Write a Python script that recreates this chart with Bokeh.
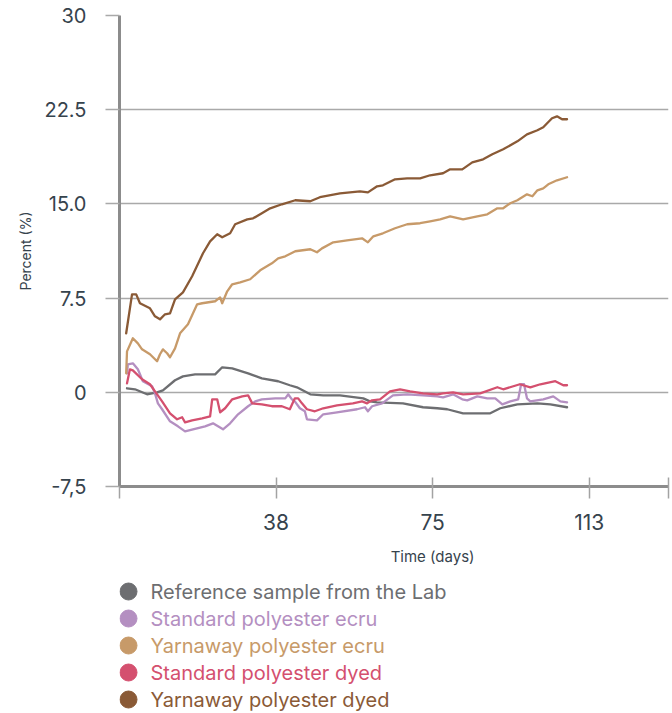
from bokeh.plotting import figure
from bokeh.models import FixedTicker, LinearAxis, Range1d, ColumnDataSource
from bokeh.layouts import column
from bokeh.core.properties import value
from bokeh.embed import file_html
from bokeh.resources import INLINE

# ---------------- data ----------------
ref_days = [1.8, 3.7, 6.6, 9.0, 10.4, 13.3, 15.2, 18.1, 22.9, 24.6, 27.0, 30.8, 34.1, 38.0,
            40.8, 42.5, 45.7, 48.8, 52.8, 58.4, 60.0, 61.7, 67.9, 72.7, 76.1, 78.5, 82.3,
            88.8, 91.2, 95.3, 100.1, 103.2, 107.2]
ref_vals = [0.32, 0.24, -0.16, 0.0, 0.16, 0.96, 1.27, 1.43, 1.43, 1.99, 1.91, 1.51, 1.11, 0.88,
            0.56, 0.40, -0.16, -0.24, -0.24, -0.48, -0.72, -0.80, -0.88, -1.19, -1.27, -1.35,
            -1.67, -1.67, -1.27, -0.96, -0.88, -0.96, -1.19]

std_ecru_days = [1.8, 2.0, 3.2, 4.4, 5.6, 7.8, 8.5, 9.2, 10.2, 12.1, 14.0, 15.7, 17.6, 20.5,
                 22.4, 23.6, 24.8, 26.5, 28.4, 30.8, 32.5, 34.1, 37.3, 39.7, 40.4, 41.3, 42.0,
                 43.2, 44.4, 44.9, 47.3, 48.8, 52.1, 56.9, 58.8, 59.5, 60.5, 62.9, 65.5, 68.9,
                 72.7, 76.1, 77.5, 79.9, 82.1, 83.3, 85.7, 88.1, 90.0, 91.7, 93.6, 95.5, 96.2,
                 96.9, 97.6, 98.4, 101.5, 103.9, 105.6, 107.2]
std_ecru_vals = [1.51, 2.23, 2.31, 1.83, 0.88, 0.48, -0.08, -0.88, -1.35, -2.31, -2.71, -3.11,
                 -2.95, -2.71, -2.47, -2.71, -2.95, -2.47, -1.75, -1.11, -0.72, -0.56, -0.48,
                 -0.48, -0.16, -0.56, -0.72, -1.27, -1.51, -2.15, -2.23, -1.75, -1.59, -1.35,
                 -1.19, -1.51, -1.11, -0.88, -0.24, -0.16, -0.24, -0.32, -0.40, -0.16, -0.56,
                 -0.64, -0.32, -0.48, -0.48, -0.96, -0.72, -0.56, 0.64, 0.64, -0.48, -0.72,
                 -0.56, -0.32, -0.72, -0.80]

yarn_ecru_days = [1.6, 1.8, 3.2, 4.4, 5.4, 7.3, 9.0, 9.7, 10.4, 11.4, 12.1, 13.3, 14.5, 16.4,
                  18.6, 19.8, 22.9, 24.1, 24.6, 25.8, 27.0, 28.9, 31.3, 33.7, 36.5, 38.0, 39.7,
                  42.1, 45.7, 47.3, 48.5, 51.2, 54.5, 58.1, 59.5, 60.8, 63.1, 66.0, 68.9, 72.0,
                  74.4, 76.8, 79.2, 82.3, 85.7, 88.1, 90.5, 91.9, 93.6, 95.3, 97.6, 98.9, 100.1,
                  101.5, 102.7, 104.8, 107.2]
yarn_ecru_vals = [1.51, 3.26, 4.30, 3.90, 3.42, 3.03, 2.47, 3.03, 3.42, 3.11, 2.79, 3.50, 4.70,
                  5.41, 7.01, 7.09, 7.25, 7.56, 7.09, 8.04, 8.60, 8.76, 9.00, 9.71, 10.27, 10.67,
                  10.83, 11.23, 11.39, 11.15, 11.46, 11.94, 12.10, 12.26, 11.94, 12.42, 12.66,
                  13.06, 13.38, 13.46, 13.61, 13.77, 14.01, 13.77, 14.01, 14.17, 14.65, 14.65,
                  15.05, 15.29, 15.76, 15.61, 16.08, 16.24, 16.56, 16.88, 17.12]

std_dyed_days = [1.8, 2.5, 3.2, 5.4, 7.3, 8.5, 10.2, 12.1, 13.8, 15.0, 15.7, 17.4, 19.8, 21.7,
                 22.2, 23.4, 24.1, 25.3, 27.0, 29.4, 30.8, 31.8, 34.1, 36.5, 38.9, 40.8, 42.0,
                 42.8, 43.7, 44.9, 46.8, 48.8, 52.1, 55.9, 58.1, 59.3, 60.5, 62.4, 64.8, 67.2,
                 69.6, 72.7, 76.1, 77.5, 79.9, 82.3, 86.4, 90.5, 91.9, 95.9, 98.4, 100.8, 104.4,
                 106.3, 107.2]
std_dyed_vals = [0.72, 1.83, 1.75, 1.04, 0.64, 0.08, -0.72, -1.67, -2.15, -1.99, -2.39, -2.23,
                 -2.07, -1.91, -0.56, -0.56, -1.59, -1.27, -0.56, -0.32, -0.24, -0.88, -0.96,
                 -1.11, -1.11, -1.35, -0.48, -0.48, -0.88, -1.35, -1.51, -1.27, -1.04, -0.88,
                 -0.72, -0.88, -0.64, -0.56, 0.08, 0.24, 0.08, -0.08, -0.16, -0.08, 0.0, -0.16,
                 -0.08, 0.40, 0.24, 0.64, 0.40, 0.64, 0.88, 0.56, 0.56]

yarn_dyed_days = [1.6, 3.0, 4.0, 4.9, 7.3, 8.5, 9.7, 10.9, 12.1, 13.3, 15.2, 17.4, 20.0, 21.7,
                  23.4, 24.6, 26.5, 27.7, 30.6, 32.0, 34.1, 36.1, 38.9, 42.1, 45.7, 48.0, 52.8,
                  57.6, 59.5, 61.7, 63.1, 66.0, 68.9, 72.0, 74.4, 77.5, 79.2, 82.1, 84.5, 87.1,
                  89.3, 91.9, 95.3, 97.6, 100.1, 101.5, 103.6, 104.8, 106.0, 107.2]
yarn_dyed_vals = [4.70, 7.80, 7.80, 7.09, 6.69, 6.05, 5.81, 6.21, 6.29, 7.40, 7.96, 9.24, 11.07,
                  12.02, 12.58, 12.34, 12.66, 13.38, 13.77, 13.85, 14.25, 14.65, 14.97, 15.29,
                  15.21, 15.53, 15.84, 16.00, 15.92, 16.40, 16.48, 16.96, 17.04, 17.04, 17.28,
                  17.44, 17.75, 17.75, 18.31, 18.55, 18.95, 19.35, 19.98, 20.54, 20.86, 21.10,
                  21.82, 21.97, 21.74, 21.74]

series_names = ["Reference sample from the Lab", "Standard polyester ecru",
                "Yarnaway polyester ecru", "Standard polyester dyed", "Yarnaway polyester dyed"]
series_colors = ["#6d6e71", "#b48fc1", "#c79a69", "#d4506f", "#8a5a36"]

x_ticks = [0, 37.5, 75, 112.5, 131.5]
x_tick_labels = {0: "", 37.5: "38", 75: "75", 112.5: "113", 131.5: ""}
y_ticks = [-7.5, 0, 7.5, 15, 22.5, 30]
y_tick_labels = {-7.5: "-7,5", 0: "0", 7.5: "7.5", 15: "15.0", 22.5: "22.5", 30: "30"}

FONT = "Inter"
TEXT = "#36434d"
AXIS = "#8c8c8c"
GRID = "#a9a9a9"

LEFT, FRAME_W, RIGHT = 119, 549, 3

# ---------------- main chart ----------------
p = figure(frame_width=FRAME_W, frame_height=471, x_range=Range1d(0, 131.5),
           y_range=Range1d(-7.5, 30), output_backend="svg", toolbar_location=None,
           min_border_left=LEFT, min_border_right=RIGHT, min_border_top=15,
           min_border_bottom=86)
p.outline_line_color = None
p.xgrid.visible = False
p.ygrid.grid_line_color = GRID
p.ygrid.grid_line_width = 1.5

yax = p.yaxis[0]
yax.ticker = FixedTicker(ticks=y_ticks)
yax.major_label_overrides = y_tick_labels
yax.axis_line_color = AXIS
yax.axis_line_width = 3
yax.major_tick_in = 0
yax.major_tick_out = 14
yax.major_tick_line_color = GRID
yax.major_tick_line_width = 1.5
yax.minor_tick_in = 0
yax.minor_tick_out = 0
yax.major_label_standoff = 19
yax.major_label_text_font = FONT
yax.major_label_text_font_size = "20px"
yax.major_label_text_color = TEXT
yax.axis_label = "Percent (%)"
yax.axis_label_text_font = FONT
yax.axis_label_text_font_size = "14px"
yax.axis_label_text_font_style = "normal"
yax.axis_label_text_color = TEXT
yax.axis_label_standoff = 7

xax = p.xaxis[0]
xax.ticker = FixedTicker(ticks=x_ticks)
xax.major_label_overrides = x_tick_labels
xax.axis_line_color = AXIS
xax.axis_line_width = 3
xax.major_tick_in = 9
xax.major_tick_out = 12
xax.major_tick_line_color = "#a3a3a3"
xax.major_tick_line_width = 1.5
xax.minor_tick_in = 0
xax.minor_tick_out = 0
xax.major_label_standoff = 15
xax.major_label_text_font = FONT
xax.major_label_text_font_size = "21px"
xax.major_label_text_color = TEXT

title_axis = LinearAxis(ticker=FixedTicker(ticks=[75]),
                        major_label_overrides={75: "Time (days)"})
title_axis.axis_line_color = None
title_axis.major_tick_line_color = None
title_axis.minor_tick_line_color = None
title_axis.major_tick_in = 0
title_axis.major_tick_out = 0
title_axis.minor_tick_in = 0
title_axis.minor_tick_out = 0
title_axis.major_label_standoff = 14
title_axis.major_label_text_font = FONT
title_axis.major_label_text_font_size = "15px"
title_axis.major_label_text_color = TEXT
p.add_layout(title_axis, "below")

all_days = [ref_days, std_ecru_days, yarn_ecru_days, std_dyed_days, yarn_dyed_days]
all_vals = [ref_vals, std_ecru_vals, yarn_ecru_vals, std_dyed_vals, yarn_dyed_vals]
for d, v, c in zip(all_days, all_vals, series_colors):
    p.line(d, v, line_color=c, line_width=2.3, line_join="round", line_cap="round")

# ---------------- legend (its frame is aligned with the chart's frame) ----------------
LEG_H = 140
leg = figure(frame_width=FRAME_W, frame_height=LEG_H,
             x_range=Range1d(LEFT, LEFT + FRAME_W), y_range=Range1d(LEG_H, 0),
             output_backend="svg", toolbar_location=None, x_axis_type=None, y_axis_type=None,
             min_border_left=LEFT, min_border_right=RIGHT, min_border_top=0, min_border_bottom=0)
leg.outline_line_color = None
leg.xgrid.visible = False
leg.ygrid.visible = False
row_start, row_step = 19, 27
rows = [row_start + row_step * i for i in range(len(series_names))]
src = ColumnDataSource(dict(
    cx=[128] * len(series_names), tx=[150] * len(series_names), y=rows,
    name=series_names, color=series_colors))
leg.scatter(x="cx", y="y", source=src, size=17, fill_color="color", line_color="color",
            marker="circle")
leg.text(x="tx", y="y", text="name", source=src, text_color="color",
         text_font=value(FONT), text_font_size="20px", text_baseline="middle",
         text_align="left")

layout = column(p, leg, spacing=0)
open("out.html", "w").write(file_html(layout, INLINE))
